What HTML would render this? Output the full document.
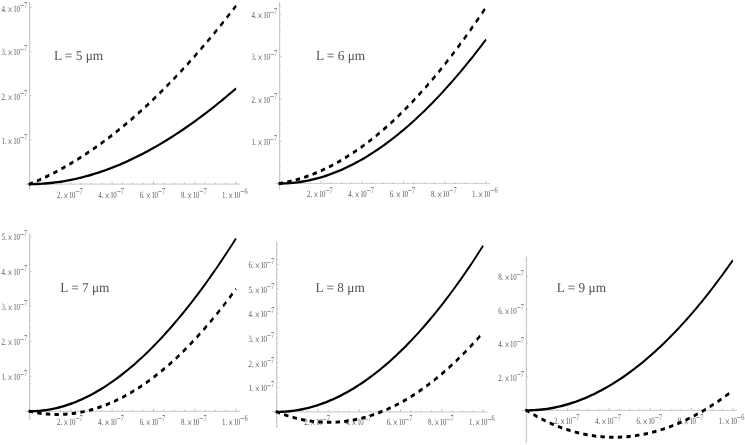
<!DOCTYPE html>
<html><head><meta charset="utf-8"><title>plots</title>
<style>
html,body{margin:0;padding:0;background:#fff;}
svg{display:block;}
text{font-family:"Liberation Serif",serif;text-rendering:geometricPrecision;}
.t{font-size:9.6px;fill:#5c5c5c;}
.s{font-size:8.8px;}
.x{font-size:12.8px;}
.m{font-size:11px;}
.L{font-size:13.5px;fill:#525252;}
</style></head><body>
<svg width="745" height="445" viewBox="0 0 745 445">
<rect width="745" height="445" fill="#fff"/>
<g><path d="M25.0,184.1H240.0" stroke="#d2d2d2" stroke-width="1.15" fill="none"/>
<path d="M29.6,2.0V190.0" stroke="#c8c8c8" stroke-width="1.15" fill="none"/>
<path d="M39.92,184.1v-1.5M50.24,184.1v-1.5M60.56,184.1v-1.5M70.88,184.1v-2.7M81.20,184.1v-1.5M91.52,184.1v-1.5M101.84,184.1v-1.5M112.16,184.1v-2.7M122.48,184.1v-1.5M132.80,184.1v-1.5M143.12,184.1v-1.5M153.44,184.1v-2.7M163.76,184.1v-1.5M174.08,184.1v-1.5M184.40,184.1v-1.5M194.72,184.1v-2.7M205.04,184.1v-1.5M215.36,184.1v-1.5M225.68,184.1v-1.5M236.00,184.1v-2.7" stroke="#b4b4b4" stroke-width="0.8" fill="none"/>
<path d="M29.6,175.45h1.1M29.6,166.61h1.1M29.6,157.76h1.1M29.6,148.92h1.1M29.6,140.07h2.0M29.6,131.22h1.1M29.6,122.38h1.1M29.6,113.53h1.1M29.6,104.69h1.1M29.6,95.84h2.0M29.6,86.99h1.1M29.6,78.15h1.1M29.6,69.30h1.1M29.6,60.46h1.1M29.6,51.61h2.0M29.6,42.76h1.1M29.6,33.92h1.1M29.6,25.07h1.1M29.6,16.23h1.1M29.6,7.38h2.0" stroke="#c4c4c4" stroke-width="0.9" fill="none"/>
<g transform="translate(57.08,197.50) scale(0.72,1)"><text class="t"><tspan x="0">2.</tspan><tspan x="8.5" dy="2.0" class="x">×</tspan><tspan x="16.4" dy="-2.0" letter-spacing="-0.5">10</tspan><tspan x="25.2" dy="-2.5" class="m">−</tspan><tspan dx="-0.2" dy="-1.5" class="s">7</tspan></text></g>
<g transform="translate(98.36,197.50) scale(0.72,1)"><text class="t"><tspan x="0">4.</tspan><tspan x="8.5" dy="2.0" class="x">×</tspan><tspan x="16.4" dy="-2.0" letter-spacing="-0.5">10</tspan><tspan x="25.2" dy="-2.5" class="m">−</tspan><tspan dx="-0.2" dy="-1.5" class="s">7</tspan></text></g>
<g transform="translate(139.64,197.50) scale(0.72,1)"><text class="t"><tspan x="0">6.</tspan><tspan x="8.5" dy="2.0" class="x">×</tspan><tspan x="16.4" dy="-2.0" letter-spacing="-0.5">10</tspan><tspan x="25.2" dy="-2.5" class="m">−</tspan><tspan dx="-0.2" dy="-1.5" class="s">7</tspan></text></g>
<g transform="translate(180.92,197.50) scale(0.72,1)"><text class="t"><tspan x="0">8.</tspan><tspan x="8.5" dy="2.0" class="x">×</tspan><tspan x="16.4" dy="-2.0" letter-spacing="-0.5">10</tspan><tspan x="25.2" dy="-2.5" class="m">−</tspan><tspan dx="-0.2" dy="-1.5" class="s">7</tspan></text></g>
<g transform="translate(221.90,197.50) scale(0.72,1)"><text class="t"><tspan x="0">1.</tspan><tspan x="8.5" dy="2.0" class="x">×</tspan><tspan x="16.4" dy="-2.0" letter-spacing="-0.5">10</tspan><tspan x="25.2" dy="-2.5" class="m">−</tspan><tspan dx="-0.2" dy="-1.5" class="s">6</tspan></text></g>
<g transform="translate(1.50,143.87) scale(0.72,1)"><text class="t"><tspan x="0">1.</tspan><tspan x="8.5" dy="2.0" class="x">×</tspan><tspan x="16.4" dy="-2.0" letter-spacing="-0.5">10</tspan><tspan x="25.2" dy="-2.5" class="m">−</tspan><tspan dx="-0.2" dy="-1.5" class="s">7</tspan></text></g>
<g transform="translate(1.50,99.64) scale(0.72,1)"><text class="t"><tspan x="0">2.</tspan><tspan x="8.5" dy="2.0" class="x">×</tspan><tspan x="16.4" dy="-2.0" letter-spacing="-0.5">10</tspan><tspan x="25.2" dy="-2.5" class="m">−</tspan><tspan dx="-0.2" dy="-1.5" class="s">7</tspan></text></g>
<g transform="translate(1.50,55.41) scale(0.72,1)"><text class="t"><tspan x="0">3.</tspan><tspan x="8.5" dy="2.0" class="x">×</tspan><tspan x="16.4" dy="-2.0" letter-spacing="-0.5">10</tspan><tspan x="25.2" dy="-2.5" class="m">−</tspan><tspan dx="-0.2" dy="-1.5" class="s">7</tspan></text></g>
<g transform="translate(1.50,11.88) scale(0.72,1)"><text class="t"><tspan x="0">4.</tspan><tspan x="8.5" dy="2.0" class="x">×</tspan><tspan x="16.4" dy="-2.0" letter-spacing="-0.5">10</tspan><tspan x="25.2" dy="-2.5" class="m">−</tspan><tspan dx="-0.2" dy="-1.5" class="s">7</tspan></text></g>
<g transform="scale(1,1.39)"><path d="M28.67,132.44 L29.60,132.45 L32.18,132.43 L34.76,132.40 L37.34,132.34 L39.92,132.25 L42.50,132.15 L45.08,132.01 L47.66,131.86 L50.24,131.68 L52.82,131.48 L55.40,131.25 L57.98,131.01 L60.56,130.73 L63.14,130.44 L65.72,130.12 L68.30,129.78 L70.88,129.42 L73.46,129.03 L76.04,128.63 L78.62,128.20 L81.20,127.74 L83.78,127.27 L86.36,126.77 L88.94,126.25 L91.52,125.71 L94.10,125.15 L96.68,124.57 L99.26,123.96 L101.84,123.34 L104.42,122.69 L107.00,122.02 L109.58,121.33 L112.16,120.62 L114.74,119.88 L117.32,119.13 L119.90,118.35 L122.48,117.56 L125.06,116.74 L127.64,115.91 L130.22,115.05 L132.80,114.17 L135.38,113.28 L137.96,112.36 L140.54,111.42 L143.12,110.47 L145.70,109.49 L148.28,108.49 L150.86,107.48 L153.44,106.44 L156.02,105.39 L158.60,104.31 L161.18,103.22 L163.76,102.11 L166.34,100.98 L168.92,99.83 L171.50,98.66 L174.08,97.47 L176.66,96.26 L179.24,95.04 L181.82,93.80 L184.40,92.53 L186.98,91.26 L189.56,89.96 L192.14,88.64 L194.72,87.31 L197.30,85.96 L199.88,84.59 L202.46,83.20 L205.04,81.80 L207.62,80.38 L210.20,78.94 L212.78,77.48 L215.36,76.01 L217.94,74.52 L220.52,73.01 L223.10,71.49 L225.68,69.95 L228.26,68.40 L230.84,66.82 L233.42,65.23 L236.00,63.63" stroke="#000" stroke-width="1.7" fill="none"/>
<path d="M28.67,132.72 L29.60,132.45 L32.18,131.68 L34.76,130.89 L37.34,130.09 L39.92,129.26 L42.50,128.40 L45.08,127.53 L47.66,126.63 L50.24,125.71 L52.82,124.77 L55.40,123.81 L57.98,122.83 L60.56,121.82 L63.14,120.79 L65.72,119.75 L68.30,118.68 L70.88,117.58 L73.46,116.47 L76.04,115.33 L78.62,114.18 L81.20,113.00 L83.78,111.80 L86.36,110.58 L88.94,109.33 L91.52,108.07 L94.10,106.78 L96.68,105.48 L99.26,104.15 L101.84,102.80 L104.42,101.43 L107.00,100.04 L109.58,98.63 L112.16,97.19 L114.74,95.74 L117.32,94.26 L119.90,92.76 L122.48,91.25 L125.06,89.71 L127.64,88.15 L130.22,86.57 L132.80,84.97 L135.38,83.34 L137.96,81.70 L140.54,80.04 L143.12,78.35 L145.70,76.65 L148.28,74.92 L150.86,73.17 L153.44,71.41 L156.02,69.62 L158.60,67.81 L161.18,65.98 L163.76,64.13 L166.34,62.26 L168.92,60.37 L171.50,58.46 L174.08,56.53 L176.66,54.58 L179.24,52.61 L181.82,50.62 L184.40,48.60 L186.98,46.57 L189.56,44.52 L192.14,42.45 L194.72,40.36 L197.30,38.24 L199.88,36.11 L202.46,33.96 L205.04,31.79 L207.62,29.59 L210.20,27.38 L212.78,25.15 L215.36,22.90 L217.94,20.63 L220.52,18.34 L223.10,16.02 L225.68,13.69 L228.26,11.34 L230.84,8.97 L233.42,6.58 L236.00,4.17" stroke="#000" stroke-width="2.15" stroke-dasharray="4.4 4.25" stroke-dashoffset="0" fill="none"/></g>
<g transform="translate(53.90,59.90) scale(0.985,1)"><text class="L">L = 5 μm</text></g></g>
<g><path d="M275.0,183.5H490.0" stroke="#d2d2d2" stroke-width="1.15" fill="none"/>
<path d="M279.6,2.0V190.0" stroke="#c8c8c8" stroke-width="1.15" fill="none"/>
<path d="M289.92,183.5v-1.5M300.24,183.5v-1.5M310.56,183.5v-1.5M320.88,183.5v-2.7M331.20,183.5v-1.5M341.52,183.5v-1.5M351.84,183.5v-1.5M362.16,183.5v-2.7M372.48,183.5v-1.5M382.80,183.5v-1.5M393.12,183.5v-1.5M403.44,183.5v-2.7M413.76,183.5v-1.5M424.08,183.5v-1.5M434.40,183.5v-1.5M444.72,183.5v-2.7M455.04,183.5v-1.5M465.36,183.5v-1.5M475.68,183.5v-1.5M486.00,183.5v-2.7" stroke="#b4b4b4" stroke-width="0.8" fill="none"/>
<path d="M279.6,175.33h1.1M279.6,166.85h1.1M279.6,158.38h1.1M279.6,149.90h1.1M279.6,141.43h2.0M279.6,132.96h1.1M279.6,124.48h1.1M279.6,116.01h1.1M279.6,107.53h1.1M279.6,99.06h2.0M279.6,90.59h1.1M279.6,82.11h1.1M279.6,73.64h1.1M279.6,65.16h1.1M279.6,56.69h2.0M279.6,48.22h1.1M279.6,39.74h1.1M279.6,31.27h1.1M279.6,22.79h1.1M279.6,14.32h2.0M279.6,5.85h1.1" stroke="#c4c4c4" stroke-width="0.9" fill="none"/>
<g transform="translate(307.08,196.90) scale(0.72,1)"><text class="t"><tspan x="0">2.</tspan><tspan x="8.5" dy="2.0" class="x">×</tspan><tspan x="16.4" dy="-2.0" letter-spacing="-0.5">10</tspan><tspan x="25.2" dy="-2.5" class="m">−</tspan><tspan dx="-0.2" dy="-1.5" class="s">7</tspan></text></g>
<g transform="translate(348.36,196.90) scale(0.72,1)"><text class="t"><tspan x="0">4.</tspan><tspan x="8.5" dy="2.0" class="x">×</tspan><tspan x="16.4" dy="-2.0" letter-spacing="-0.5">10</tspan><tspan x="25.2" dy="-2.5" class="m">−</tspan><tspan dx="-0.2" dy="-1.5" class="s">7</tspan></text></g>
<g transform="translate(389.64,196.90) scale(0.72,1)"><text class="t"><tspan x="0">6.</tspan><tspan x="8.5" dy="2.0" class="x">×</tspan><tspan x="16.4" dy="-2.0" letter-spacing="-0.5">10</tspan><tspan x="25.2" dy="-2.5" class="m">−</tspan><tspan dx="-0.2" dy="-1.5" class="s">7</tspan></text></g>
<g transform="translate(430.92,196.90) scale(0.72,1)"><text class="t"><tspan x="0">8.</tspan><tspan x="8.5" dy="2.0" class="x">×</tspan><tspan x="16.4" dy="-2.0" letter-spacing="-0.5">10</tspan><tspan x="25.2" dy="-2.5" class="m">−</tspan><tspan dx="-0.2" dy="-1.5" class="s">7</tspan></text></g>
<g transform="translate(471.90,196.90) scale(0.72,1)"><text class="t"><tspan x="0">1.</tspan><tspan x="8.5" dy="2.0" class="x">×</tspan><tspan x="16.4" dy="-2.0" letter-spacing="-0.5">10</tspan><tspan x="25.2" dy="-2.5" class="m">−</tspan><tspan dx="-0.2" dy="-1.5" class="s">6</tspan></text></g>
<g transform="translate(251.50,145.23) scale(0.72,1)"><text class="t"><tspan x="0">1.</tspan><tspan x="8.5" dy="2.0" class="x">×</tspan><tspan x="16.4" dy="-2.0" letter-spacing="-0.5">10</tspan><tspan x="25.2" dy="-2.5" class="m">−</tspan><tspan dx="-0.2" dy="-1.5" class="s">7</tspan></text></g>
<g transform="translate(251.50,102.86) scale(0.72,1)"><text class="t"><tspan x="0">2.</tspan><tspan x="8.5" dy="2.0" class="x">×</tspan><tspan x="16.4" dy="-2.0" letter-spacing="-0.5">10</tspan><tspan x="25.2" dy="-2.5" class="m">−</tspan><tspan dx="-0.2" dy="-1.5" class="s">7</tspan></text></g>
<g transform="translate(251.50,60.49) scale(0.72,1)"><text class="t"><tspan x="0">3.</tspan><tspan x="8.5" dy="2.0" class="x">×</tspan><tspan x="16.4" dy="-2.0" letter-spacing="-0.5">10</tspan><tspan x="25.2" dy="-2.5" class="m">−</tspan><tspan dx="-0.2" dy="-1.5" class="s">7</tspan></text></g>
<g transform="translate(251.50,18.12) scale(0.72,1)"><text class="t"><tspan x="0">4.</tspan><tspan x="8.5" dy="2.0" class="x">×</tspan><tspan x="16.4" dy="-2.0" letter-spacing="-0.5">10</tspan><tspan x="25.2" dy="-2.5" class="m">−</tspan><tspan dx="-0.2" dy="-1.5" class="s">7</tspan></text></g>
<g transform="scale(1,1.39)"><path d="M278.67,132.01 L279.60,132.01 L282.18,132.00 L284.76,131.94 L287.34,131.86 L289.92,131.73 L292.50,131.58 L295.08,131.39 L297.66,131.16 L300.24,130.90 L302.82,130.61 L305.40,130.28 L307.98,129.91 L310.56,129.52 L313.14,129.09 L315.72,128.62 L318.30,128.12 L320.88,127.59 L323.46,127.03 L326.04,126.43 L328.62,125.80 L331.20,125.13 L333.78,124.43 L336.36,123.70 L338.94,122.94 L341.52,122.14 L344.10,121.31 L346.68,120.45 L349.26,119.56 L351.84,118.63 L354.42,117.67 L357.00,116.68 L359.58,115.66 L362.16,114.60 L364.74,113.52 L367.32,112.40 L369.90,111.25 L372.48,110.07 L375.06,108.85 L377.64,107.61 L380.22,106.33 L382.80,105.03 L385.38,103.69 L387.96,102.32 L390.54,100.92 L393.12,99.49 L395.70,98.03 L398.28,96.54 L400.86,95.02 L403.44,93.47 L406.02,91.88 L408.60,90.27 L411.18,88.63 L413.76,86.96 L416.34,85.26 L418.92,83.52 L421.50,81.76 L424.08,79.97 L426.66,78.15 L429.24,76.30 L431.82,74.42 L434.40,72.52 L436.98,70.58 L439.56,68.61 L442.14,66.62 L444.72,64.60 L447.30,62.54 L449.88,60.46 L452.46,58.35 L455.04,56.22 L457.62,54.05 L460.20,51.86 L462.78,49.64 L465.36,47.39 L467.94,45.11 L470.52,42.81 L473.10,40.48 L475.68,38.12 L478.26,35.73 L480.84,33.32 L483.42,30.88 L486.00,28.41" stroke="#000" stroke-width="1.7" fill="none"/>
<path d="M278.67,132.12 L279.60,132.01 L282.18,131.69 L284.76,131.34 L287.34,130.95 L289.92,130.53 L292.50,130.08 L295.08,129.59 L297.66,129.07 L300.24,128.52 L302.82,127.93 L305.40,127.31 L307.98,126.66 L310.56,125.97 L313.14,125.26 L315.72,124.50 L318.30,123.72 L320.88,122.90 L323.46,122.05 L326.04,121.17 L328.62,120.26 L331.20,119.31 L333.78,118.33 L336.36,117.32 L338.94,116.27 L341.52,115.19 L344.10,114.08 L346.68,112.94 L349.26,111.77 L351.84,110.56 L354.42,109.33 L357.00,108.06 L359.58,106.76 L362.16,105.42 L364.74,104.06 L367.32,102.66 L369.90,101.23 L372.48,99.77 L375.06,98.28 L377.64,96.76 L380.22,95.21 L382.80,93.62 L385.38,92.00 L387.96,90.36 L390.54,88.68 L393.12,86.97 L395.70,85.23 L398.28,83.45 L400.86,81.65 L403.44,79.82 L406.02,77.95 L408.60,76.06 L411.18,74.13 L413.76,72.17 L416.34,70.19 L418.92,68.17 L421.50,66.12 L424.08,64.04 L426.66,61.93 L429.24,59.80 L431.82,57.63 L434.40,55.43 L436.98,53.20 L439.56,50.94 L442.14,48.65 L444.72,46.33 L447.30,43.98 L449.88,41.60 L452.46,39.19 L455.04,36.75 L457.62,34.29 L460.20,31.79 L462.78,29.26 L465.36,26.71 L467.94,24.12 L470.52,21.51 L473.10,18.86 L475.68,16.19 L478.26,13.49 L480.84,10.75 L483.42,7.99 L486.00,5.21" stroke="#000" stroke-width="2.15" stroke-dasharray="4.4 4.25" stroke-dashoffset="0" fill="none"/></g>
<g transform="translate(315.90,59.90) scale(0.985,1)"><text class="L">L = 6 μm</text></g></g>
<g><path d="M25.0,411.3H240.0" stroke="#d2d2d2" stroke-width="1.15" fill="none"/>
<path d="M29.6,233.5V420.0" stroke="#c8c8c8" stroke-width="1.15" fill="none"/>
<path d="M39.92,411.3v-1.5M50.24,411.3v-1.5M60.56,411.3v-1.5M70.88,411.3v-2.7M81.20,411.3v-1.5M91.52,411.3v-1.5M101.84,411.3v-1.5M112.16,411.3v-2.7M122.48,411.3v-1.5M132.80,411.3v-1.5M143.12,411.3v-1.5M153.44,411.3v-2.7M163.76,411.3v-1.5M174.08,411.3v-1.5M184.40,411.3v-1.5M194.72,411.3v-2.7M205.04,411.3v-1.5M215.36,411.3v-1.5M225.68,411.3v-1.5M236.00,411.3v-2.7" stroke="#b4b4b4" stroke-width="0.8" fill="none"/>
<path d="M29.6,404.30h1.1M29.6,397.29h1.1M29.6,390.29h1.1M29.6,383.28h1.1M29.6,376.28h2.0M29.6,369.28h1.1M29.6,362.27h1.1M29.6,355.27h1.1M29.6,348.26h1.1M29.6,341.26h2.0M29.6,334.26h1.1M29.6,327.25h1.1M29.6,320.25h1.1M29.6,313.24h1.1M29.6,306.24h2.0M29.6,299.24h1.1M29.6,292.23h1.1M29.6,285.23h1.1M29.6,278.22h1.1M29.6,271.22h2.0M29.6,264.22h1.1M29.6,257.21h1.1M29.6,250.21h1.1M29.6,243.20h1.1M29.6,236.20h2.0M29.6,418.30h1.1" stroke="#c4c4c4" stroke-width="0.9" fill="none"/>
<g transform="translate(57.08,424.70) scale(0.72,1)"><text class="t"><tspan x="0">2.</tspan><tspan x="8.5" dy="2.0" class="x">×</tspan><tspan x="16.4" dy="-2.0" letter-spacing="-0.5">10</tspan><tspan x="25.2" dy="-2.5" class="m">−</tspan><tspan dx="-0.2" dy="-1.5" class="s">7</tspan></text></g>
<g transform="translate(98.36,424.70) scale(0.72,1)"><text class="t"><tspan x="0">4.</tspan><tspan x="8.5" dy="2.0" class="x">×</tspan><tspan x="16.4" dy="-2.0" letter-spacing="-0.5">10</tspan><tspan x="25.2" dy="-2.5" class="m">−</tspan><tspan dx="-0.2" dy="-1.5" class="s">7</tspan></text></g>
<g transform="translate(139.64,424.70) scale(0.72,1)"><text class="t"><tspan x="0">6.</tspan><tspan x="8.5" dy="2.0" class="x">×</tspan><tspan x="16.4" dy="-2.0" letter-spacing="-0.5">10</tspan><tspan x="25.2" dy="-2.5" class="m">−</tspan><tspan dx="-0.2" dy="-1.5" class="s">7</tspan></text></g>
<g transform="translate(180.92,424.70) scale(0.72,1)"><text class="t"><tspan x="0">8.</tspan><tspan x="8.5" dy="2.0" class="x">×</tspan><tspan x="16.4" dy="-2.0" letter-spacing="-0.5">10</tspan><tspan x="25.2" dy="-2.5" class="m">−</tspan><tspan dx="-0.2" dy="-1.5" class="s">7</tspan></text></g>
<g transform="translate(221.90,424.70) scale(0.72,1)"><text class="t"><tspan x="0">1.</tspan><tspan x="8.5" dy="2.0" class="x">×</tspan><tspan x="16.4" dy="-2.0" letter-spacing="-0.5">10</tspan><tspan x="25.2" dy="-2.5" class="m">−</tspan><tspan dx="-0.2" dy="-1.5" class="s">6</tspan></text></g>
<g transform="translate(1.50,380.08) scale(0.72,1)"><text class="t"><tspan x="0">1.</tspan><tspan x="8.5" dy="2.0" class="x">×</tspan><tspan x="16.4" dy="-2.0" letter-spacing="-0.5">10</tspan><tspan x="25.2" dy="-2.5" class="m">−</tspan><tspan dx="-0.2" dy="-1.5" class="s">7</tspan></text></g>
<g transform="translate(1.50,345.06) scale(0.72,1)"><text class="t"><tspan x="0">2.</tspan><tspan x="8.5" dy="2.0" class="x">×</tspan><tspan x="16.4" dy="-2.0" letter-spacing="-0.5">10</tspan><tspan x="25.2" dy="-2.5" class="m">−</tspan><tspan dx="-0.2" dy="-1.5" class="s">7</tspan></text></g>
<g transform="translate(1.50,310.04) scale(0.72,1)"><text class="t"><tspan x="0">3.</tspan><tspan x="8.5" dy="2.0" class="x">×</tspan><tspan x="16.4" dy="-2.0" letter-spacing="-0.5">10</tspan><tspan x="25.2" dy="-2.5" class="m">−</tspan><tspan dx="-0.2" dy="-1.5" class="s">7</tspan></text></g>
<g transform="translate(1.50,275.02) scale(0.72,1)"><text class="t"><tspan x="0">4.</tspan><tspan x="8.5" dy="2.0" class="x">×</tspan><tspan x="16.4" dy="-2.0" letter-spacing="-0.5">10</tspan><tspan x="25.2" dy="-2.5" class="m">−</tspan><tspan dx="-0.2" dy="-1.5" class="s">7</tspan></text></g>
<g transform="translate(1.50,240.00) scale(0.72,1)"><text class="t"><tspan x="0">5.</tspan><tspan x="8.5" dy="2.0" class="x">×</tspan><tspan x="16.4" dy="-2.0" letter-spacing="-0.5">10</tspan><tspan x="25.2" dy="-2.5" class="m">−</tspan><tspan dx="-0.2" dy="-1.5" class="s">7</tspan></text></g>
<g transform="scale(1,1.39)"><path d="M28.67,295.90 L29.60,295.90 L32.18,295.88 L34.76,295.81 L37.34,295.71 L39.92,295.56 L42.50,295.36 L45.08,295.13 L47.66,294.85 L50.24,294.53 L52.82,294.17 L55.40,293.77 L57.98,293.32 L60.56,292.83 L63.14,292.31 L65.72,291.74 L68.30,291.13 L70.88,290.48 L73.46,289.79 L76.04,289.06 L78.62,288.28 L81.20,287.47 L83.78,286.62 L86.36,285.73 L88.94,284.80 L91.52,283.83 L94.10,282.82 L96.68,281.77 L99.26,280.68 L101.84,279.55 L104.42,278.39 L107.00,277.18 L109.58,275.94 L112.16,274.66 L114.74,273.34 L117.32,271.98 L119.90,270.59 L122.48,269.16 L125.06,267.69 L127.64,266.18 L130.22,264.64 L132.80,263.06 L135.38,261.44 L137.96,259.79 L140.54,258.10 L143.12,256.38 L145.70,254.61 L148.28,252.82 L150.86,250.98 L153.44,249.12 L156.02,247.21 L158.60,245.27 L161.18,243.30 L163.76,241.29 L166.34,239.24 L168.92,237.17 L171.50,235.05 L174.08,232.91 L176.66,230.72 L179.24,228.51 L181.82,226.26 L184.40,223.98 L186.98,221.66 L189.56,219.31 L192.14,216.93 L194.72,214.52 L197.30,212.07 L199.88,209.59 L202.46,207.07 L205.04,204.53 L207.62,201.95 L210.20,199.34 L212.78,196.70 L215.36,194.03 L217.94,191.33 L220.52,188.59 L223.10,185.82 L225.68,183.03 L228.26,180.20 L230.84,177.34 L233.42,174.45 L236.00,171.53" stroke="#000" stroke-width="1.7" fill="none"/>
<path d="M28.67,295.74 L29.60,295.90 L32.18,296.30 L34.76,296.67 L37.34,297.00 L39.92,297.28 L42.50,297.53 L45.08,297.73 L47.66,297.90 L50.24,298.03 L52.82,298.12 L55.40,298.16 L57.98,298.17 L60.56,298.14 L63.14,298.07 L65.72,297.97 L68.30,297.82 L70.88,297.63 L73.46,297.41 L76.04,297.14 L78.62,296.84 L81.20,296.50 L83.78,296.12 L86.36,295.70 L88.94,295.24 L91.52,294.75 L94.10,294.21 L96.68,293.64 L99.26,293.03 L101.84,292.38 L104.42,291.69 L107.00,290.97 L109.58,290.21 L112.16,289.41 L114.74,288.57 L117.32,287.69 L119.90,286.78 L122.48,285.83 L125.06,284.84 L127.64,283.81 L130.22,282.75 L132.80,281.65 L135.38,280.51 L137.96,279.34 L140.54,278.13 L143.12,276.88 L145.70,275.59 L148.28,274.27 L150.86,272.91 L153.44,271.51 L156.02,270.08 L158.60,268.61 L161.18,267.11 L163.76,265.56 L166.34,263.99 L168.92,262.37 L171.50,260.72 L174.08,259.03 L176.66,257.31 L179.24,255.55 L181.82,253.75 L184.40,251.92 L186.98,250.06 L189.56,248.15 L192.14,246.21 L194.72,244.24 L197.30,242.23 L199.88,240.19 L202.46,238.11 L205.04,235.99 L207.62,233.84 L210.20,231.65 L212.78,229.43 L215.36,227.18 L217.94,224.88 L220.52,222.56 L223.10,220.20 L225.68,217.80 L228.26,215.37 L230.84,212.91 L233.42,210.41 L236.00,207.87" stroke="#000" stroke-width="2.15" stroke-dasharray="4.4 4.25" stroke-dashoffset="0" fill="none"/></g>
<g transform="translate(60.20,292.00) scale(0.985,1)"><text class="L">L = 7 μm</text></g></g>
<g><path d="M272.1,411.9H487.1" stroke="#d2d2d2" stroke-width="1.15" fill="none"/>
<path d="M276.7,240.8V428.0" stroke="#c8c8c8" stroke-width="1.15" fill="none"/>
<path d="M287.02,411.9v-1.5M297.34,411.9v-1.5M307.66,411.9v-1.5M317.98,411.9v-2.7M328.30,411.9v-1.5M338.62,411.9v-1.5M348.94,411.9v-1.5M359.26,411.9v-2.7M369.58,411.9v-1.5M379.90,411.9v-1.5M390.22,411.9v-1.5M400.54,411.9v-2.7M410.86,411.9v-1.5M421.18,411.9v-1.5M431.50,411.9v-1.5M441.82,411.9v-2.7M452.14,411.9v-1.5M462.46,411.9v-1.5M472.78,411.9v-1.5M483.10,411.9v-2.7" stroke="#b4b4b4" stroke-width="0.8" fill="none"/>
<path d="M276.7,406.98h1.1M276.7,402.07h1.1M276.7,397.15h1.1M276.7,392.24h1.1M276.7,387.32h2.0M276.7,382.40h1.1M276.7,377.49h1.1M276.7,372.57h1.1M276.7,367.66h1.1M276.7,362.74h2.0M276.7,357.82h1.1M276.7,352.91h1.1M276.7,347.99h1.1M276.7,343.08h1.1M276.7,338.16h2.0M276.7,333.24h1.1M276.7,328.33h1.1M276.7,323.41h1.1M276.7,318.50h1.1M276.7,313.58h2.0M276.7,308.66h1.1M276.7,303.75h1.1M276.7,298.83h1.1M276.7,293.92h1.1M276.7,289.00h2.0M276.7,284.08h1.1M276.7,279.17h1.1M276.7,274.25h1.1M276.7,269.34h1.1M276.7,264.42h2.0M276.7,259.50h1.1M276.7,254.59h1.1M276.7,249.67h1.1M276.7,244.76h1.1M276.7,416.82h1.1M276.7,421.73h1.1M276.7,426.65h1.1" stroke="#c4c4c4" stroke-width="0.9" fill="none"/>
<g transform="translate(304.18,425.30) scale(0.72,1)"><text class="t"><tspan x="0">2.</tspan><tspan x="8.5" dy="2.0" class="x">×</tspan><tspan x="16.4" dy="-2.0" letter-spacing="-0.5">10</tspan><tspan x="25.2" dy="-2.5" class="m">−</tspan><tspan dx="-0.2" dy="-1.5" class="s">7</tspan></text></g>
<g transform="translate(345.46,425.30) scale(0.72,1)"><text class="t"><tspan x="0">4.</tspan><tspan x="8.5" dy="2.0" class="x">×</tspan><tspan x="16.4" dy="-2.0" letter-spacing="-0.5">10</tspan><tspan x="25.2" dy="-2.5" class="m">−</tspan><tspan dx="-0.2" dy="-1.5" class="s">7</tspan></text></g>
<g transform="translate(386.74,425.30) scale(0.72,1)"><text class="t"><tspan x="0">6.</tspan><tspan x="8.5" dy="2.0" class="x">×</tspan><tspan x="16.4" dy="-2.0" letter-spacing="-0.5">10</tspan><tspan x="25.2" dy="-2.5" class="m">−</tspan><tspan dx="-0.2" dy="-1.5" class="s">7</tspan></text></g>
<g transform="translate(428.02,425.30) scale(0.72,1)"><text class="t"><tspan x="0">8.</tspan><tspan x="8.5" dy="2.0" class="x">×</tspan><tspan x="16.4" dy="-2.0" letter-spacing="-0.5">10</tspan><tspan x="25.2" dy="-2.5" class="m">−</tspan><tspan dx="-0.2" dy="-1.5" class="s">7</tspan></text></g>
<g transform="translate(469.00,425.30) scale(0.72,1)"><text class="t"><tspan x="0">1.</tspan><tspan x="8.5" dy="2.0" class="x">×</tspan><tspan x="16.4" dy="-2.0" letter-spacing="-0.5">10</tspan><tspan x="25.2" dy="-2.5" class="m">−</tspan><tspan dx="-0.2" dy="-1.5" class="s">6</tspan></text></g>
<g transform="translate(248.60,391.12) scale(0.72,1)"><text class="t"><tspan x="0">1.</tspan><tspan x="8.5" dy="2.0" class="x">×</tspan><tspan x="16.4" dy="-2.0" letter-spacing="-0.5">10</tspan><tspan x="25.2" dy="-2.5" class="m">−</tspan><tspan dx="-0.2" dy="-1.5" class="s">7</tspan></text></g>
<g transform="translate(248.60,366.54) scale(0.72,1)"><text class="t"><tspan x="0">2.</tspan><tspan x="8.5" dy="2.0" class="x">×</tspan><tspan x="16.4" dy="-2.0" letter-spacing="-0.5">10</tspan><tspan x="25.2" dy="-2.5" class="m">−</tspan><tspan dx="-0.2" dy="-1.5" class="s">7</tspan></text></g>
<g transform="translate(248.60,341.96) scale(0.72,1)"><text class="t"><tspan x="0">3.</tspan><tspan x="8.5" dy="2.0" class="x">×</tspan><tspan x="16.4" dy="-2.0" letter-spacing="-0.5">10</tspan><tspan x="25.2" dy="-2.5" class="m">−</tspan><tspan dx="-0.2" dy="-1.5" class="s">7</tspan></text></g>
<g transform="translate(248.60,317.38) scale(0.72,1)"><text class="t"><tspan x="0">4.</tspan><tspan x="8.5" dy="2.0" class="x">×</tspan><tspan x="16.4" dy="-2.0" letter-spacing="-0.5">10</tspan><tspan x="25.2" dy="-2.5" class="m">−</tspan><tspan dx="-0.2" dy="-1.5" class="s">7</tspan></text></g>
<g transform="translate(248.60,292.80) scale(0.72,1)"><text class="t"><tspan x="0">5.</tspan><tspan x="8.5" dy="2.0" class="x">×</tspan><tspan x="16.4" dy="-2.0" letter-spacing="-0.5">10</tspan><tspan x="25.2" dy="-2.5" class="m">−</tspan><tspan dx="-0.2" dy="-1.5" class="s">7</tspan></text></g>
<g transform="translate(248.60,268.22) scale(0.72,1)"><text class="t"><tspan x="0">6.</tspan><tspan x="8.5" dy="2.0" class="x">×</tspan><tspan x="16.4" dy="-2.0" letter-spacing="-0.5">10</tspan><tspan x="25.2" dy="-2.5" class="m">−</tspan><tspan dx="-0.2" dy="-1.5" class="s">7</tspan></text></g>
<g transform="scale(1,1.39)"><path d="M275.77,296.33 L276.70,296.33 L279.28,296.31 L281.86,296.25 L284.44,296.16 L287.02,296.02 L289.60,295.85 L292.18,295.64 L294.76,295.39 L297.34,295.10 L299.92,294.77 L302.50,294.41 L305.08,294.01 L307.66,293.57 L310.24,293.09 L312.82,292.57 L315.40,292.01 L317.98,291.42 L320.56,290.79 L323.14,290.12 L325.72,289.42 L328.30,288.67 L330.88,287.89 L333.46,287.07 L336.04,286.22 L338.62,285.32 L341.20,284.39 L343.78,283.42 L346.36,282.42 L348.94,281.37 L351.52,280.29 L354.10,279.17 L356.68,278.02 L359.26,276.82 L361.84,275.59 L364.42,274.33 L367.00,273.02 L369.58,271.68 L372.16,270.30 L374.74,268.89 L377.32,267.44 L379.90,265.95 L382.48,264.43 L385.06,262.86 L387.64,261.27 L390.22,259.63 L392.80,257.96 L395.38,256.25 L397.96,254.51 L400.54,252.73 L403.12,250.91 L405.70,249.06 L408.28,247.17 L410.86,245.24 L413.44,243.28 L416.02,241.28 L418.60,239.25 L421.18,237.18 L423.76,235.07 L426.34,232.93 L428.92,230.75 L431.50,228.54 L434.08,226.29 L436.66,224.00 L439.24,221.68 L441.82,219.32 L444.40,216.93 L446.98,214.50 L449.56,212.04 L452.14,209.54 L454.72,207.00 L457.30,204.43 L459.88,201.83 L462.46,199.19 L465.04,196.51 L467.62,193.80 L470.20,191.06 L472.78,188.28 L475.36,185.46 L477.94,182.61 L480.52,179.72 L483.10,176.80" stroke="#000" stroke-width="1.7" fill="none"/>
<path d="M275.77,296.06 L276.70,296.33 L279.28,297.06 L281.86,297.75 L284.44,298.41 L287.02,299.02 L289.60,299.60 L292.18,300.15 L294.76,300.65 L297.34,301.12 L299.92,301.55 L302.50,301.94 L305.08,302.30 L307.66,302.62 L310.24,302.90 L312.82,303.15 L315.40,303.35 L317.98,303.52 L320.56,303.66 L323.14,303.76 L325.72,303.82 L328.30,303.84 L330.88,303.83 L333.46,303.78 L336.04,303.69 L338.62,303.57 L341.20,303.41 L343.78,303.21 L346.36,302.98 L348.94,302.71 L351.52,302.40 L354.10,302.06 L356.68,301.68 L359.26,301.26 L361.84,300.81 L364.42,300.32 L367.00,299.80 L369.58,299.23 L372.16,298.64 L374.74,298.00 L377.32,297.33 L379.90,296.63 L382.48,295.89 L385.06,295.11 L387.64,294.30 L390.22,293.45 L392.80,292.56 L395.38,291.64 L397.96,290.68 L400.54,289.69 L403.12,288.66 L405.70,287.60 L408.28,286.50 L410.86,285.36 L413.44,284.19 L416.02,282.98 L418.60,281.74 L421.18,280.46 L423.76,279.15 L426.34,277.80 L428.92,276.41 L431.50,274.99 L434.08,273.54 L436.66,272.05 L439.24,270.52 L441.82,268.96 L444.40,267.37 L446.98,265.74 L449.56,264.07 L452.14,262.37 L454.72,260.63 L457.30,258.86 L459.88,257.05 L462.46,255.21 L465.04,253.34 L467.62,251.43 L470.20,249.48 L472.78,247.50 L475.36,245.49 L477.94,243.44 L480.52,241.35 L483.10,239.23" stroke="#000" stroke-width="2.15" stroke-dasharray="4.4 4.25" stroke-dashoffset="0" fill="none"/></g>
<g transform="translate(315.50,292.00) scale(0.985,1)"><text class="L">L = 8 μm</text></g></g>
<g><path d="M521.8,410.4H736.8" stroke="#d2d2d2" stroke-width="1.15" fill="none"/>
<path d="M526.4,256.2V443.0" stroke="#c8c8c8" stroke-width="1.15" fill="none"/>
<path d="M536.72,410.4v-1.5M547.04,410.4v-1.5M557.36,410.4v-1.5M567.68,410.4v-2.7M578.00,410.4v-1.5M588.32,410.4v-1.5M598.64,410.4v-1.5M608.96,410.4v-2.7M619.28,410.4v-1.5M629.60,410.4v-1.5M639.92,410.4v-1.5M650.24,410.4v-2.7M660.56,410.4v-1.5M670.88,410.4v-1.5M681.20,410.4v-1.5M691.52,410.4v-2.7M701.84,410.4v-1.5M712.16,410.4v-1.5M722.48,410.4v-1.5M732.80,410.4v-2.7" stroke="#b4b4b4" stroke-width="0.8" fill="none"/>
<path d="M526.4,402.02h1.1M526.4,393.64h1.1M526.4,385.26h1.1M526.4,376.88h2.0M526.4,368.50h1.1M526.4,360.12h1.1M526.4,351.74h1.1M526.4,343.36h2.0M526.4,334.98h1.1M526.4,326.60h1.1M526.4,318.22h1.1M526.4,309.84h2.0M526.4,301.46h1.1M526.4,293.08h1.1M526.4,284.70h1.1M526.4,276.32h2.0M526.4,267.94h1.1M526.4,259.56h1.1M526.4,418.78h1.1M526.4,427.16h1.1M526.4,435.54h1.1" stroke="#c4c4c4" stroke-width="0.9" fill="none"/>
<g transform="translate(553.88,423.80) scale(0.72,1)"><text class="t"><tspan x="0">2.</tspan><tspan x="8.5" dy="2.0" class="x">×</tspan><tspan x="16.4" dy="-2.0" letter-spacing="-0.5">10</tspan><tspan x="25.2" dy="-2.5" class="m">−</tspan><tspan dx="-0.2" dy="-1.5" class="s">7</tspan></text></g>
<g transform="translate(595.16,423.80) scale(0.72,1)"><text class="t"><tspan x="0">4.</tspan><tspan x="8.5" dy="2.0" class="x">×</tspan><tspan x="16.4" dy="-2.0" letter-spacing="-0.5">10</tspan><tspan x="25.2" dy="-2.5" class="m">−</tspan><tspan dx="-0.2" dy="-1.5" class="s">7</tspan></text></g>
<g transform="translate(636.44,423.80) scale(0.72,1)"><text class="t"><tspan x="0">6.</tspan><tspan x="8.5" dy="2.0" class="x">×</tspan><tspan x="16.4" dy="-2.0" letter-spacing="-0.5">10</tspan><tspan x="25.2" dy="-2.5" class="m">−</tspan><tspan dx="-0.2" dy="-1.5" class="s">7</tspan></text></g>
<g transform="translate(677.72,423.80) scale(0.72,1)"><text class="t"><tspan x="0">8.</tspan><tspan x="8.5" dy="2.0" class="x">×</tspan><tspan x="16.4" dy="-2.0" letter-spacing="-0.5">10</tspan><tspan x="25.2" dy="-2.5" class="m">−</tspan><tspan dx="-0.2" dy="-1.5" class="s">7</tspan></text></g>
<g transform="translate(718.70,423.80) scale(0.72,1)"><text class="t"><tspan x="0">1.</tspan><tspan x="8.5" dy="2.0" class="x">×</tspan><tspan x="16.4" dy="-2.0" letter-spacing="-0.5">10</tspan><tspan x="25.2" dy="-2.5" class="m">−</tspan><tspan dx="-0.2" dy="-1.5" class="s">6</tspan></text></g>
<g transform="translate(498.30,380.68) scale(0.72,1)"><text class="t"><tspan x="0">2.</tspan><tspan x="8.5" dy="2.0" class="x">×</tspan><tspan x="16.4" dy="-2.0" letter-spacing="-0.5">10</tspan><tspan x="25.2" dy="-2.5" class="m">−</tspan><tspan dx="-0.2" dy="-1.5" class="s">7</tspan></text></g>
<g transform="translate(498.30,347.16) scale(0.72,1)"><text class="t"><tspan x="0">4.</tspan><tspan x="8.5" dy="2.0" class="x">×</tspan><tspan x="16.4" dy="-2.0" letter-spacing="-0.5">10</tspan><tspan x="25.2" dy="-2.5" class="m">−</tspan><tspan dx="-0.2" dy="-1.5" class="s">7</tspan></text></g>
<g transform="translate(498.30,313.64) scale(0.72,1)"><text class="t"><tspan x="0">6.</tspan><tspan x="8.5" dy="2.0" class="x">×</tspan><tspan x="16.4" dy="-2.0" letter-spacing="-0.5">10</tspan><tspan x="25.2" dy="-2.5" class="m">−</tspan><tspan dx="-0.2" dy="-1.5" class="s">7</tspan></text></g>
<g transform="translate(498.30,280.12) scale(0.72,1)"><text class="t"><tspan x="0">8.</tspan><tspan x="8.5" dy="2.0" class="x">×</tspan><tspan x="16.4" dy="-2.0" letter-spacing="-0.5">10</tspan><tspan x="25.2" dy="-2.5" class="m">−</tspan><tspan dx="-0.2" dy="-1.5" class="s">7</tspan></text></g>
<g transform="scale(1,1.39)"><path d="M525.47,295.25 L526.40,295.25 L528.98,295.23 L531.56,295.18 L534.14,295.10 L536.72,294.98 L539.30,294.82 L541.88,294.63 L544.46,294.41 L547.04,294.15 L549.62,293.86 L552.20,293.53 L554.78,293.17 L557.36,292.77 L559.94,292.34 L562.52,291.88 L565.10,291.38 L567.68,290.85 L570.26,290.28 L572.84,289.68 L575.42,289.05 L578.00,288.38 L580.58,287.68 L583.16,286.94 L585.74,286.17 L588.32,285.37 L590.90,284.53 L593.48,283.66 L596.06,282.75 L598.64,281.81 L601.22,280.84 L603.80,279.83 L606.38,278.79 L608.96,277.72 L611.54,276.61 L614.12,275.47 L616.70,274.30 L619.28,273.09 L621.86,271.85 L624.44,270.57 L627.02,269.27 L629.60,267.92 L632.18,266.55 L634.76,265.14 L637.34,263.70 L639.92,262.22 L642.50,260.72 L645.08,259.17 L647.66,257.60 L650.24,255.99 L652.82,254.35 L655.40,252.68 L657.98,250.97 L660.56,249.23 L663.14,247.46 L665.72,245.65 L668.30,243.81 L670.88,241.94 L673.46,240.04 L676.04,238.10 L678.62,236.13 L681.20,234.13 L683.78,232.09 L686.36,230.03 L688.94,227.92 L691.52,225.79 L694.10,223.62 L696.68,221.43 L699.26,219.19 L701.84,216.93 L704.42,214.63 L707.00,212.31 L709.58,209.94 L712.16,207.55 L714.74,205.12 L717.32,202.67 L719.90,200.18 L722.48,197.65 L725.06,195.10 L727.64,192.51 L730.22,189.89 L732.80,187.24" stroke="#000" stroke-width="1.7" fill="none"/>
<path d="M525.47,294.84 L526.40,295.25 L528.98,296.39 L531.56,297.48 L534.14,298.55 L536.72,299.58 L539.30,300.57 L541.88,301.53 L544.46,302.45 L547.04,303.34 L549.62,304.20 L552.20,305.02 L554.78,305.81 L557.36,306.56 L559.94,307.28 L562.52,307.96 L565.10,308.61 L567.68,309.22 L570.26,309.81 L572.84,310.35 L575.42,310.87 L578.00,311.35 L580.58,311.79 L583.16,312.21 L585.74,312.58 L588.32,312.93 L590.90,313.24 L593.48,313.52 L596.06,313.77 L598.64,313.98 L601.22,314.16 L603.80,314.30 L606.38,314.42 L608.96,314.50 L611.54,314.54 L614.12,314.56 L616.70,314.54 L619.28,314.49 L621.86,314.40 L624.44,314.29 L627.02,314.14 L629.60,313.96 L632.18,313.75 L634.76,313.50 L637.34,313.22 L639.92,312.92 L642.50,312.57 L645.08,312.20 L647.66,311.80 L650.24,311.36 L652.82,310.89 L655.40,310.39 L657.98,309.86 L660.56,309.30 L663.14,308.70 L665.72,308.07 L668.30,307.42 L670.88,306.73 L673.46,306.01 L676.04,305.26 L678.62,304.48 L681.20,303.67 L683.78,302.82 L686.36,301.95 L688.94,301.04 L691.52,300.11 L694.10,299.14 L696.68,298.15 L699.26,297.12 L701.84,296.06 L704.42,294.97 L707.00,293.86 L709.58,292.71 L712.16,291.53 L714.74,290.32 L717.32,289.09 L719.90,287.82 L722.48,286.52 L725.06,285.19 L727.64,283.84 L730.22,282.45 L732.80,281.04" stroke="#000" stroke-width="2.15" stroke-dasharray="4.4 4.25" stroke-dashoffset="0" fill="none"/></g>
<g transform="translate(556.80,292.10) scale(0.985,1)"><text class="L">L = 9 μm</text></g></g>
</svg>
</body></html>
